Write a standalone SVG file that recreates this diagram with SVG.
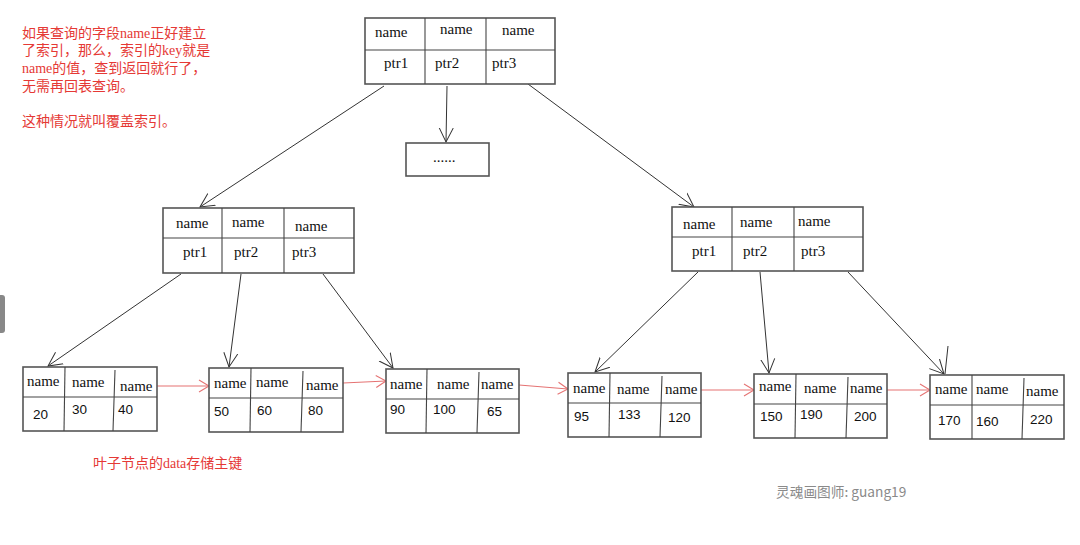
<svg xmlns="http://www.w3.org/2000/svg" width="1080" height="545" viewBox="0 0 1080 545">
<style>
.box{fill:#fff;stroke:#555;stroke-width:1.6}
.div{stroke:#444;stroke-width:1.1;fill:none}
.nm{font-family:"Liberation Serif","DejaVu Serif",serif;font-size:15px;fill:#111}
.num{font-family:"Liberation Sans",Arial,sans-serif;font-size:13.5px;fill:#111}
.red{font-family:"Liberation Serif","Noto Sans CJK SC",serif;font-size:14px;fill:#e53935}
.blk{stroke:#333;stroke-width:1;fill:none}
.rd{stroke:#e57373;stroke-width:1.1;fill:none}
</style>
<defs>
<marker id="ah" markerWidth="16" markerHeight="16" refX="14" refY="8" orient="auto" markerUnits="userSpaceOnUse">
<path d="M0,1 L14,8 L0,15" fill="none" stroke="#333" stroke-width="1"/>
</marker>
<marker id="ahr" markerWidth="14" markerHeight="14" refX="11" refY="7" orient="auto" markerUnits="userSpaceOnUse">
<path d="M1,1 L11,7 L1,13" fill="none" stroke="#e57373" stroke-width="1.1"/>
</marker>
</defs>
<rect width="1080" height="545" fill="#fff"/>
<rect x="-4" y="295" width="9" height="38" rx="3" fill="#888"/>

<g id="note">
<text class="red" x="22" y="38">如果查询的字段name正好建立</text>
<text class="red" x="22" y="55">了索引，那么，索引的key就是</text>
<text class="red" x="22" y="73">name的值，查到返回就行了，</text>
<text class="red" x="22" y="91">无需再回表查询。</text>
<text class="red" x="22" y="126">这种情况就叫覆盖索引。</text>
</g>

<g id="connectors">
<line class="blk" x1="384" y1="86" x2="200" y2="207" marker-end="url(#ah)"/>
<line class="blk" x1="447" y1="86" x2="446" y2="142" marker-end="url(#ah)"/>
<line class="blk" x1="528" y1="84" x2="694" y2="207" marker-end="url(#ah)"/>
<line class="blk" x1="181" y1="274" x2="48" y2="366" marker-end="url(#ah)"/>
<line class="blk" x1="241" y1="274" x2="229" y2="367" marker-end="url(#ah)"/>
<line class="blk" x1="323" y1="274" x2="393" y2="368" marker-end="url(#ah)"/>
<line class="blk" x1="698" y1="272" x2="595" y2="372" marker-end="url(#ah)"/>
<line class="blk" x1="760" y1="272" x2="769" y2="373" marker-end="url(#ah)"/>
<line class="blk" x1="848" y1="272" x2="944" y2="374" marker-end="url(#ah)"/>
<line class="blk" x1="948" y1="346" x2="945" y2="374"/>
<line class="rd" x1="157" y1="386" x2="209" y2="386" marker-end="url(#ahr)"/>
<line class="rd" x1="343" y1="383" x2="386" y2="381" marker-end="url(#ahr)"/>
<line class="rd" x1="519" y1="385" x2="568" y2="389" marker-end="url(#ahr)"/>
<line class="rd" x1="701" y1="390" x2="754" y2="390" marker-end="url(#ahr)"/>
<line class="rd" x1="887" y1="390" x2="930" y2="390" marker-end="url(#ahr)"/>
</g>

<g id="root">
<rect class="box" x="365" y="18" width="190" height="66"/>
<line class="div" x1="365" y1="50" x2="555" y2="50"/>
<line class="div" x1="425" y1="18" x2="425" y2="84"/>
<line class="div" x1="486" y1="18" x2="486" y2="84"/>
<text class="nm" x="375" y="37">name</text>
<text class="nm" x="440" y="34">name</text>
<text class="nm" x="502" y="35">name</text>
<text class="nm" x="384" y="68">ptr1</text>
<text class="nm" x="435" y="68">ptr2</text>
<text class="nm" x="492" y="68">ptr3</text>
</g>

<g id="more">
<rect class="box" x="406" y="143" width="83" height="33"/>
<text class="nm" x="433" y="162" font-size="13">......</text>
</g>

<g id="inner-left">
<rect class="box" x="163" y="208" width="191" height="65"/>
<line class="div" x1="163" y1="238" x2="354" y2="238"/>
<line class="div" x1="222" y1="208" x2="222" y2="273"/>
<line class="div" x1="284" y1="208" x2="284" y2="273"/>
<text class="nm" x="176" y="228">name</text>
<text class="nm" x="232" y="227">name</text>
<text class="nm" x="295" y="231">name</text>
<text class="nm" x="183" y="257">ptr1</text>
<text class="nm" x="234" y="257">ptr2</text>
<text class="nm" x="292" y="257">ptr3</text>
</g>

<g id="inner-right">
<rect class="box" x="672" y="207" width="191" height="64"/>
<line class="div" x1="672" y1="237" x2="863" y2="237"/>
<line class="div" x1="732" y1="207" x2="732" y2="271"/>
<line class="div" x1="794" y1="207" x2="794" y2="271"/>
<text class="nm" x="683" y="229">name</text>
<text class="nm" x="740" y="227">name</text>
<text class="nm" x="798" y="226">name</text>
<text class="nm" x="692" y="256">ptr1</text>
<text class="nm" x="743" y="256">ptr2</text>
<text class="nm" x="801" y="256">ptr3</text>
</g>

<g id="leaf1">
<rect class="box" x="23" y="367" width="134" height="64"/>
<line class="div" x1="23" y1="397" x2="157" y2="397"/>
<line class="div" x1="65" y1="367" x2="64" y2="431"/>
<line class="div" x1="115" y1="370" x2="113" y2="431"/>
<text class="nm" x="27" y="386">name</text>
<text class="nm" x="72" y="387">name</text>
<text class="nm" x="120" y="391">name</text>
<text class="num" x="33" y="419">20</text>
<text class="num" x="72" y="414">30</text>
<text class="num" x="118" y="414">40</text>
</g>

<g id="leaf2">
<rect class="box" x="209" y="368" width="134" height="64"/>
<line class="div" x1="209" y1="398" x2="343" y2="398"/>
<line class="div" x1="251" y1="368" x2="250" y2="432"/>
<line class="div" x1="303" y1="371" x2="301" y2="432"/>
<text class="nm" x="214" y="388">name</text>
<text class="nm" x="256" y="387">name</text>
<text class="nm" x="306" y="390">name</text>
<text class="num" x="214" y="416">50</text>
<text class="num" x="257" y="415">60</text>
<text class="num" x="308" y="415">80</text>
</g>

<g id="leaf3">
<rect class="box" x="386" y="369" width="133" height="64"/>
<line class="div" x1="386" y1="399" x2="519" y2="399"/>
<line class="div" x1="427" y1="369" x2="426" y2="433"/>
<line class="div" x1="479" y1="372" x2="477" y2="433"/>
<text class="nm" x="390" y="389">name</text>
<text class="nm" x="437" y="389">name</text>
<text class="nm" x="481" y="389">name</text>
<text class="num" x="390" y="414">90</text>
<text class="num" x="433" y="414">100</text>
<text class="num" x="487" y="416">65</text>
</g>

<g id="leaf4">
<rect class="box" x="568" y="373" width="133" height="64"/>
<line class="div" x1="568" y1="403" x2="701" y2="403"/>
<line class="div" x1="610" y1="373" x2="609" y2="437"/>
<line class="div" x1="662" y1="376" x2="660" y2="437"/>
<text class="nm" x="573" y="393">name</text>
<text class="nm" x="617" y="394">name</text>
<text class="nm" x="665" y="394">name</text>
<text class="num" x="574" y="421">95</text>
<text class="num" x="618" y="419">133</text>
<text class="num" x="668" y="422">120</text>
</g>

<g id="leaf5">
<rect class="box" x="754" y="374" width="133" height="64"/>
<line class="div" x1="754" y1="404" x2="887" y2="404"/>
<line class="div" x1="796" y1="374" x2="795" y2="438"/>
<line class="div" x1="848" y1="377" x2="846" y2="438"/>
<text class="nm" x="759" y="391">name</text>
<text class="nm" x="804" y="393">name</text>
<text class="nm" x="850" y="393">name</text>
<text class="num" x="760" y="421">150</text>
<text class="num" x="800" y="419">190</text>
<text class="num" x="854" y="421">200</text>
</g>

<g id="leaf6">
<rect class="box" x="930" y="375" width="134" height="64"/>
<line class="div" x1="930" y1="405" x2="1064" y2="405"/>
<line class="div" x1="972" y1="375" x2="972" y2="439"/>
<line class="div" x1="1024" y1="378" x2="1022" y2="439"/>
<text class="nm" x="935" y="394">name</text>
<text class="nm" x="976" y="394">name</text>
<text class="nm" x="1026" y="396">name</text>
<text class="num" x="938" y="425">170</text>
<text class="num" x="976" y="426">160</text>
<text class="num" x="1030" y="424">220</text>
</g>

<g id="caption">
<text class="red" x="93" y="468" font-size="13.5">叶子节点的data存储主键</text>
<text x="776" y="497" font-family="Noto Sans CJK SC,Noto Sans,sans-serif" font-size="13.7" fill="#8a8a8a">灵魂画图师: guang19</text>
</g>
</svg>
